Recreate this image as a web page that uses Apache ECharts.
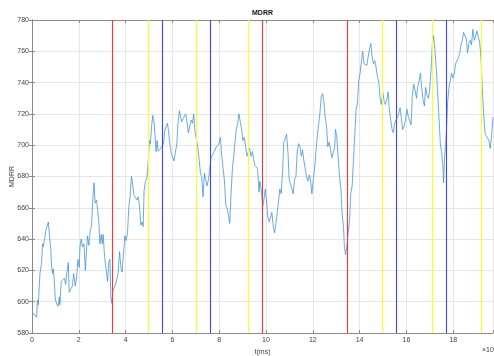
<!DOCTYPE html>
<html><head><meta charset="utf-8">
<script src="https://cdn.jsdelivr.net/npm/echarts@6/dist/echarts.min.js"></script>
<style>html,body{margin:0;padding:0;background:#fff}#c{width:494px;height:356px}</style>
</head><body><div id="c"></div>
<script>
// time in units of 10^4 ms
var tMs = [0.00,0.10,0.17,0.20,0.23,0.27,0.34,0.41,0.45,0.48,0.54,0.60,0.65,0.70,0.74,0.80,0.84,0.88,0.91,0.95,1.00,1.05,1.11,1.17,1.19,1.25,1.31,1.38,1.44,1.48,1.55,1.59,1.65,1.73,1.78,1.85,1.91,1.96,2.02,2.05,2.10,2.16,2.22,2.28,2.33,2.37,2.43,2.49,2.54,2.59,2.65,2.70,2.76,2.82,2.86,2.90,2.96,3.00,3.04,3.10,3.19,3.23,3.28,3.33,
3.37,3.41,3.46,3.51,3.57,3.63,3.68,3.74,3.80,3.85,3.91,3.97,4.02,4.08,4.14,4.19,4.25,4.31,4.36,4.42,4.48,4.54,4.59,4.65,4.71,4.75,4.79,4.85,4.91,4.96,5.02,5.06,5.11,5.16,5.22,5.26,5.30,5.35,5.39,5.45,5.50,5.56,5.62,5.67,5.73,5.79,5.84,5.90,5.96,6.02,6.07,6.13,6.19,6.24,6.30,
6.39,6.46,6.51,6.57,6.63,6.68,6.74,6.80,6.86,6.91,6.97,7.03,7.08,7.14,7.20,7.25,7.31,7.37,7.42,7.48,7.54,7.59,7.65,7.71,7.76,7.82,7.88,7.94,7.99,8.05,8.11,8.16,8.22,8.28,8.33,8.39,8.45,8.50,8.56,8.62,8.67,8.73,8.79,8.84,8.90,8.96,9.01,9.07,9.13,9.19,9.25,9.30,9.36,9.42,9.47,9.53,9.59,9.64,9.70,
9.74,9.80,9.86,9.91,9.97,10.03,10.08,10.14,10.20,10.25,10.31,10.37,10.42,10.48,10.54,10.59,10.65,10.71,10.76,10.82,10.88,10.94,10.99,11.05,11.11,11.16,11.22,11.28,11.33,11.39,11.45,11.51,11.56,11.62,11.68,11.73,11.79,11.85,11.90,11.96,12.02,12.07,12.13,12.19,12.24,12.30,12.36,12.42,12.47,12.53,12.59,12.64,12.70,12.76,12.81,12.87,12.93,
12.97,13.02,13.08,13.14,13.20,13.25,13.31,13.35,13.40,13.45,13.51,13.57,13.62,13.68,13.74,13.79,13.85,13.91,13.96,14.02,14.08,14.13,14.19,14.25,14.31,14.36,14.42,14.48,14.53,14.59,14.65,14.70,14.76,14.82,14.88,14.93,14.99,15.05,15.10,15.16,15.22,15.27,15.33,15.39,15.44,15.50,15.56,15.61,15.67,15.73,15.79,15.84,15.90,15.96,16.02,16.07,16.13,
16.20,16.25,16.31,16.37,16.43,16.48,16.54,16.60,16.65,16.71,16.77,16.82,16.88,16.94,16.99,17.05,17.11,17.16,17.22,17.28,17.33,17.39,17.45,17.50,17.56,17.59,17.63,17.67,17.72,17.76,17.82,17.88,17.93,17.99,18.05,18.10,18.16,18.22,18.27,18.33,18.39,18.44,18.50,18.56,18.61,18.67,18.73,18.78,18.84,18.90,18.95,19.01,19.07,19.13,19.19,19.24,19.30,19.36,19.41,19.47,19.53,19.58,19.64,19.70];
var mdrr = [592,592,592,590,601,598,618,625,637,635,640,646,647,651,643,634,622,618,621,614,601,600,597,603,598,613,614,615,611,617,625,606,608,610,618,610,616,627,622,635,640,635,637,620,633,642,636,646,648,663,676,663,665,656,650,637,643,637,643,629,618,613,625,627,
603,599,607,606,611,610,618,632,622,619,631,642,639,644,661,667,680,674,668,669,665,667,662,649,651,648,671,677,679,688,703,701,712,719,714,706,696,703,696,697,698,697,701,709,712,714,708,700,694,693,690,690,701,714,722,
715,717,716,720,714,708,707,716,714,720,708,707,699,691,682,680,667,682,678,674,678,684,692,693,695,694,699,700,701,705,693,686,678,662,660,656,650,667,684,693,701,710,714,720,715,710,703,705,699,693,696,698,693,696,691,687,686,685,670,
677,671,661,665,672,663,654,651,650,657,648,644,650,657,665,672,669,684,702,704,707,695,678,675,675,669,678,680,695,701,699,693,697,690,689,680,677,681,678,669,678,684,695,706,712,720,731,733,728,718,712,699,702,697,692,691,698,
710,706,693,680,672,657,648,635,630,635,644,652,669,674,691,706,723,727,741,746,754,760,752,753,751,756,761,765,757,752,754,750,744,740,729,726,734,728,726,729,734,723,716,710,708,714,716,717,720,724,723,710,712,716,723,719,720,
713,731,739,735,730,737,741,746,737,729,725,737,732,730,735,748,765,770,761,748,735,718,701,696,686,676,693,699,712,727,737,742,746,743,746,752,753,756,758,764,767,772,773,768,759,765,767,764,774,767,769,773,769,766,755,737,720,708,706,706,703,698,706,718];
var redLines = [3.42, 9.82, 13.49];
var yellowLines = [4.98, 7.00, 9.22, 14.97, 17.10, 19.20];
var blueLines = [5.58, 7.60, 15.58, 17.69];
var xTicks = [0, 2, 4, 6, 8, 10, 12, 14, 16, 18];
var yTicks = [580, 600, 620, 640, 660, 680, 700, 720, 740, 760, 780];

var pts = tMs.map(function (t, i) { return [t, mdrr[i]]; });
function vlines(arr, color) {
  return {
    type: 'line', data: [], silent: true, z: 1,
    markLine: {
      symbol: 'none', silent: true, animation: false, label: { show: false },
      lineStyle: { color: color, width: 1.1, type: 'solid' },
      data: arr.map(function (v) { return { xAxis: v }; })
    }
  };
}
var font = 'Liberation Sans, Arial, sans-serif';
var axCol = '#8a8a8a';
var lblCol = '#404040';
var chart = echarts.init(document.getElementById('c'));
var xBase = { type: 'value', min: 0, max: 19.7, interval: 2 };
var yBase = { type: 'value', min: 580, max: 780, interval: 20 };
chart.setOption({
  animation: false,
  grid: { left: 32, right: 1, top: 20, bottom: 23, containLabel: false, outerBoundsMode: 'none' },
  graphic: [
    { type: 'text', x: 262.5, y: 13, style: { text: 'MDRR', font: 'bold 7px ' + font, fill: '#111', textAlign: 'center', textVerticalAlign: 'middle' } },
    { type: 'text', x: 482, y: 347, style: { text: '×10⁴', font: '7px ' + font, fill: lblCol, textAlign: 'left', textVerticalAlign: 'top' } }
  ],
  xAxis: [
    Object.assign({}, xBase, {
      position: 'bottom', name: 't(ms)', nameLocation: 'middle', nameGap: 16, nameMoveOverlap: false,
      nameTextStyle: { fontFamily: font, fontSize: 7, color: lblCol },
      axisLine: { show: true, lineStyle: { color: axCol, width: 1 } },
      axisTick: { show: true, inside: true, length: 3, lineStyle: { color: axCol } },
      axisLabel: { fontFamily: font, fontSize: 7, color: lblCol, margin: 4,
        formatter: function (v) { return xTicks.indexOf(v) >= 0 ? String(v) : ''; } },
      splitLine: { show: true, lineStyle: { color: '#e6e6e6', width: 1 } }
    }),
    Object.assign({}, xBase, {
      position: 'top',
      axisLine: { show: true, lineStyle: { color: axCol, width: 1 } },
      axisTick: { show: true, inside: true, length: 3, lineStyle: { color: axCol } },
      axisLabel: { show: false }, splitLine: { show: false }
    })
  ],
  yAxis: [
    Object.assign({}, yBase, {
      position: 'left', name: 'MDRR', nameLocation: 'middle', nameGap: 16, nameMoveOverlap: false,
      nameTextStyle: { fontFamily: font, fontSize: 7, color: lblCol },
      axisLine: { show: true, lineStyle: { color: axCol, width: 1 } },
      axisTick: { show: true, inside: true, length: 3, lineStyle: { color: axCol } },
      axisLabel: { fontFamily: font, fontSize: 7, color: lblCol, margin: 3,
        formatter: function (v) { return yTicks.indexOf(v) >= 0 ? String(v) : ''; } },
      splitLine: { show: true, lineStyle: { color: '#e6e6e6', width: 1 } }
    }),
    Object.assign({}, yBase, {
      position: 'right',
      axisLine: { show: true, lineStyle: { color: axCol, width: 1 } },
      axisTick: { show: true, inside: true, length: 3, lineStyle: { color: axCol } },
      axisLabel: { show: false }, splitLine: { show: false }
    })
  ],
  series: [
    vlines(redLines, '#ff3030'),
    vlines(yellowLines, '#ffff20'),
    vlines(blueLines, '#4040ff'),
    {
      type: 'line', data: pts, symbol: 'none', z: 3,
      lineStyle: { color: '#3a8fd2', width: 0.75 }
    }
  ]
});
</script></body></html>
